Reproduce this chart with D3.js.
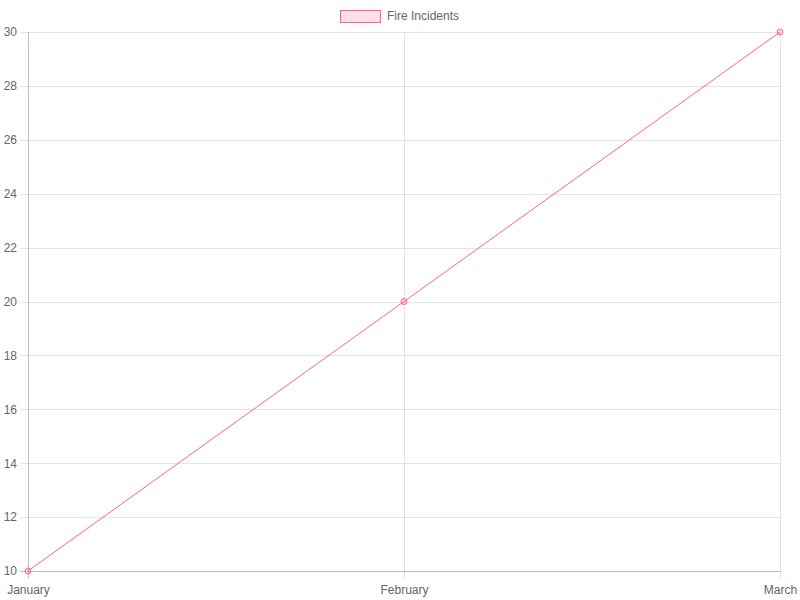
<!DOCTYPE html>
<html><head><meta charset="utf-8">
<script src="https://cdn.jsdelivr.net/npm/d3@7"></script>
<style>body{margin:0;background:#fff}svg{display:block}</style>
</head><body>
<svg id="c" width="800" height="600"></svg>
<script>
const categories = ["January", "February", "March"];
const seriesName = "Fire Incidents";
const values = [10, 20, 30];
const yTicks = [10, 12, 14, 16, 18, 20, 22, 24, 26, 28, 30];

(function () {
const svg = d3.select("#c");
const font = "Liberation Sans, Arial, Helvetica, sans-serif";
const pLeft = 28, pRight = 780, pTop = 32, pBottom = 571;

const x = d3.scalePoint().domain(categories).range([pLeft, pRight]);
const y = d3.scaleLinear().domain([10, 30]).range([pBottom, pTop]);

// horizontal grid
const yAxis = d3.axisLeft(y).tickValues(yTicks).tickSize(0).tickPadding(11);
const gy = svg.append("g").attr("transform", `translate(${pLeft},0)`).call(yAxis);
gy.select(".domain").remove();
gy.selectAll("text").attr("font-family", font).attr("font-size", 12).attr("fill", "#666");
svg.append("g").selectAll("line").data(yTicks).join("line")
  .attr("x1", pLeft - 8).attr("x2", pRight + 0.5)
  .attr("y1", d => Math.round(y(d)) + 0.5).attr("y2", d => Math.round(y(d)) + 0.5)
  .attr("stroke", d => d === 10 ? "rgba(0,0,0,0.25)" : "rgba(0,0,0,0.1)").attr("stroke-width", 1);

// vertical grid
svg.append("g").selectAll("line").data(categories).join("line")
  .attr("x1", d => Math.round(x(d)) + 0.5).attr("x2", d => Math.round(x(d)) + 0.5)
  .attr("y1", pTop).attr("y2", pBottom + 7)
  .attr("stroke", (d, i) => i === 0 ? "rgba(0,0,0,0.25)" : "rgba(0,0,0,0.1)");

const xAxis = d3.axisBottom(x).tickSize(0).tickPadding(14.5);
const gx = svg.append("g").attr("transform", `translate(0,${pBottom})`).call(xAxis);
gx.select(".domain").remove();
gx.selectAll("text").attr("font-family", font).attr("font-size", 12).attr("fill", "#666");

// line
const data = categories.map((c, i) => ({c, v: values[i]}));
svg.append("path").datum(data)
  .attr("d", d3.line().x(d => x(d.c)).y(d => y(d.v)))
  .attr("fill", "none").attr("stroke", "rgb(255,99,132)").attr("stroke-width", 1);
svg.append("g").selectAll("circle").data(data).join("circle")
  .attr("cx", d => x(d.c)).attr("cy", d => y(d.v)).attr("r", 3)
  .attr("fill", "rgba(255,99,132,0.2)").attr("stroke", "rgb(255,99,132)").attr("stroke-width", 1);

// legend
svg.append("rect").attr("x", 340.5).attr("y", 10.5).attr("width", 40).attr("height", 12)
  .attr("fill", "rgba(255,99,132,0.2)").attr("stroke", "rgb(255,99,132)").attr("stroke-width", 1);
svg.append("text").attr("x", 387).attr("y", 20).text(seriesName)
  .attr("font-family", font).attr("font-size", 12).attr("fill", "#666");
})();
</script>
</body></html>
